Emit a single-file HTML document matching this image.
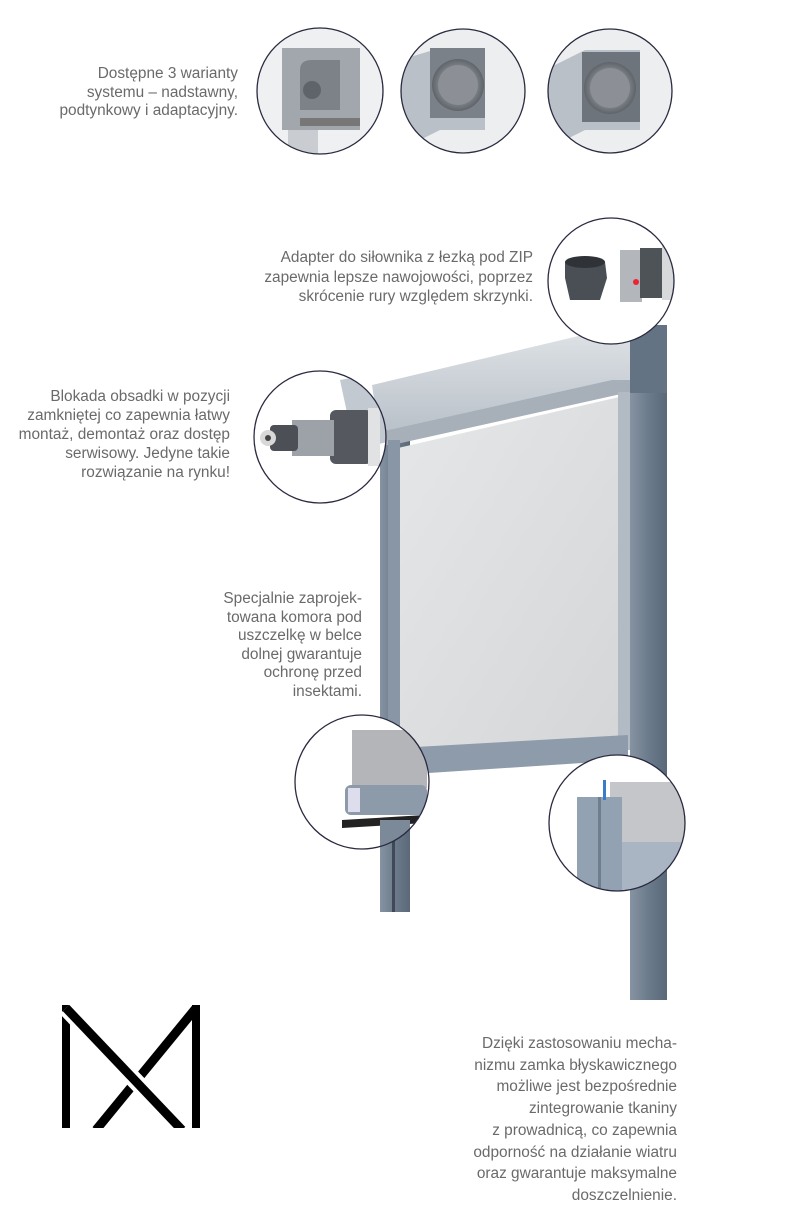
<!DOCTYPE html>
<html><head><meta charset="utf-8"><style>
html,body{margin:0;padding:0;background:#fff;}
body{width:802px;height:1201px;position:relative;overflow:hidden;font-family:"Liberation Sans",sans-serif;}
.t{position:absolute;color:#6a6a6a;font-size:15.4px;text-align:right;white-space:nowrap;font-weight:normal;}
svg{position:absolute;left:0;top:0;}
</style></head><body>
<svg width="802" height="1201" viewBox="0 0 802 1201">
<defs>
<linearGradient id="scr" x1="0" y1="0" x2="1" y2="1"><stop offset="0" stop-color="#e6e7e8"/><stop offset="1" stop-color="#d3d5d7"/></linearGradient>
<linearGradient id="post" x1="0" y1="0" x2="1" y2="0"><stop offset="0" stop-color="#8593a2"/><stop offset="0.5" stop-color="#6c7b8b"/><stop offset="1" stop-color="#5a6878"/></linearGradient>
<linearGradient id="box" x1="0" y1="0" x2="0" y2="1"><stop offset="0" stop-color="#dfe3e7"/><stop offset="1" stop-color="#b6bec6"/></linearGradient>
<radialGradient id="tube" cx="0.5" cy="0.5" r="0.5"><stop offset="0.6" stop-color="#8a8f95"/><stop offset="1" stop-color="#5f646a"/></radialGradient>
<clipPath id="c1"><circle cx="320" cy="91" r="63"/></clipPath>
<clipPath id="c2"><circle cx="463" cy="91" r="62"/></clipPath>
<clipPath id="c3"><circle cx="610" cy="91" r="62"/></clipPath>
<clipPath id="c4"><circle cx="611" cy="281" r="63"/></clipPath>
<clipPath id="c5"><circle cx="320" cy="437" r="66"/></clipPath>
<clipPath id="c6"><circle cx="362" cy="782" r="67"/></clipPath>
<clipPath id="c7"><circle cx="617" cy="823" r="68"/></clipPath>
</defs>

<!-- main product -->
<rect x="630" y="325" width="37" height="675" fill="url(#post)"/>
<rect x="625" y="325" width="42" height="68" fill="#647384"/>
<rect x="380" y="430" width="30" height="482" fill="url(#post)"/>
<rect x="392" y="430" width="3" height="482" fill="#3e4955"/>
<polygon points="372,385 612,328 630,328 630,388 392,440 380,440" fill="url(#box)"/>
<polygon points="380,432 612,380 630,380 630,392 392,445 380,445" fill="#a7b0b9"/>
<polygon points="398,448 628,395 628,745 398,760" fill="url(#scr)"/>
<rect x="618" y="392" width="12" height="358" fill="#b2bac3"/>
<polygon points="398,748 628,735 628,760 398,775" fill="#8e9bab"/>
<rect x="388" y="440" width="12" height="335" fill="#8896a6"/>

<!-- circles -->
<g clip-path="url(#c1)"><rect x="250" y="20" width="140" height="140" fill="#eef0f1"/><rect x="282" y="48" width="78" height="82" fill="#a2a7ad"/><path d="M300,70 Q300,60 312,60 L340,60 L340,110 L300,110 Z" fill="#7d8289"/><circle cx="312" cy="90" r="9" fill="#5f646a"/><rect x="300" y="118" width="60" height="8" fill="#777"/><rect x="288" y="130" width="30" height="40" fill="#c9ccd0"/></g>
<circle cx="320" cy="91" r="63" fill="none" stroke="#2a2a40" stroke-width="1.3"/>
<g clip-path="url(#c2)"><rect x="395" y="20" width="140" height="140" fill="#eceef0"/><polygon points="400,60 440,48 485,48 485,130 440,130 400,150" fill="#b9c0c7"/><rect x="430" y="48" width="55" height="70" fill="#7b8188"/><circle cx="458" cy="85" r="26" fill="url(#tube)"/><circle cx="458" cy="85" r="20" fill="#8c9096"/></g>
<circle cx="463" cy="91" r="62" fill="none" stroke="#2a2a40" stroke-width="1.3"/>
<g clip-path="url(#c3)"><rect x="542" y="20" width="140" height="140" fill="#eceef0"/><polygon points="545,70 585,50 640,50 640,130 585,130 545,150" fill="#b9c0c7"/><rect x="582" y="52" width="58" height="70" fill="#6e747b"/><circle cx="610" cy="88" r="26" fill="url(#tube)"/><circle cx="610" cy="88" r="20" fill="#8c9096"/></g>
<circle cx="610" cy="91" r="62" fill="none" stroke="#2a2a40" stroke-width="1.3"/>
<g clip-path="url(#c4)"><rect x="545" y="215" width="135" height="135" fill="#fff"/><path d="M565,262 L605,262 L607,278 L600,300 L570,300 L565,278Z" fill="#4a4f55"/><ellipse cx="585" cy="262" rx="20" ry="6" fill="#2f3338"/><rect x="620" y="250" width="22" height="52" fill="#b3b6ba"/><rect x="640" y="248" width="25" height="50" fill="#4e5358"/><rect x="662" y="245" width="18" height="55" fill="#d7d9db"/><circle cx="636" cy="282" r="3" fill="#e23"/></g>
<circle cx="611" cy="281" r="63" fill="none" stroke="#2a2a40" stroke-width="1.3"/>
<g clip-path="url(#c5)"><rect x="250" y="368" width="145" height="140" fill="#fff"/><polygon points="340,380 395,370 395,440 355,450" fill="#c3c9d0"/><rect x="330" y="410" width="42" height="54" rx="6" fill="#55595f"/><rect x="292" y="420" width="42" height="36" fill="#9da2a8"/><rect x="270" y="425" width="28" height="26" rx="4" fill="#4c5056"/><circle cx="268" cy="438" r="8" fill="#d8d8d8"/><circle cx="268" cy="438" r="3" fill="#444"/><rect x="368" y="408" width="12" height="58" fill="#e0e2e4"/></g>
<circle cx="320" cy="437" r="66" fill="none" stroke="#2a2a40" stroke-width="1.3"/>
<g clip-path="url(#c6)"><rect x="292" y="712" width="140" height="140" fill="#fff"/><rect x="352" y="730" width="75" height="58" fill="#b3b5b8"/><rect x="345" y="785" width="82" height="30" rx="6" fill="#8d9aa9"/><rect x="348" y="788" width="12" height="24" fill="#dde"/><polygon points="342,820 425,815 425,823 342,828" fill="#222"/><rect x="380" y="820" width="30" height="40" fill="#7c8999"/></g>
<circle cx="362" cy="782" r="67" fill="none" stroke="#2a2a40" stroke-width="1.3"/>
<g clip-path="url(#c7)"><rect x="545" y="752" width="145" height="145" fill="#fff"/><rect x="610" y="782" width="80" height="110" fill="#c4c6c9"/><rect x="620" y="842" width="70" height="50" fill="#a9b5c2"/><rect x="577" y="797" width="45" height="100" fill="#93a2b2"/><rect x="598" y="797" width="3" height="100" fill="#6f7e8e"/><rect x="603" y="780" width="3" height="20" fill="#3b7cc9"/></g>
<circle cx="617" cy="823" r="68" fill="none" stroke="#2a2a40" stroke-width="1.3"/>

<!-- logo -->
<g stroke-linecap="butt">
<rect x="62" y="1005" width="8" height="123" fill="#000"/>
<rect x="192" y="1005" width="8" height="123" fill="#000"/>
<line x1="196" y1="1008" x2="96" y2="1130" stroke="#000" stroke-width="9"/>
<line x1="66" y1="1008" x2="182" y2="1130" stroke="#fff" stroke-width="17"/>
<line x1="66" y1="1008" x2="182" y2="1130" stroke="#000" stroke-width="9"/>
<rect x="62" y="1128" width="140" height="10" fill="#fff"/>
<rect x="62" y="995" width="140" height="10" fill="#fff"/>
</g>
</svg>

<div class="t" style="right:564px;top:65px;line-height:18.5px;">Dostępne 3 warianty<br>systemu – nadstawny,<br>podtynkowy i adaptacyjny.</div>
<div class="t" style="right:269px;top:248px;line-height:19.5px;">Adapter do siłownika z łezką pod ZIP<br>zapewnia lepsze nawojowości, poprzez<br>skrócenie rury względem skrzynki.</div>
<div class="t" style="right:572px;top:387px;line-height:19px;">Blokada obsadki w pozycji<br>zamkniętej co zapewnia łatwy<br>montaż, demontaż oraz dostęp<br>serwisowy. Jedyne takie<br>rozwiązanie na rynku!</div>
<div class="t" style="right:440px;top:590px;line-height:18.5px;">Specjalnie zaprojek-<br>towana komora pod<br>uszczelkę w belce<br>dolnej gwarantuje<br>ochronę przed<br>insektami.</div>
<div class="t" style="right:125px;top:1033px;line-height:21.7px;">Dzięki zastosowaniu mecha-<br>nizmu zamka błyskawicznego<br>możliwe jest bezpośrednie<br>zintegrowanie tkaniny<br>z prowadnicą, co zapewnia<br>odporność na działanie wiatru<br>oraz gwarantuje maksymalne<br>doszczelnienie.</div>
</body></html>
